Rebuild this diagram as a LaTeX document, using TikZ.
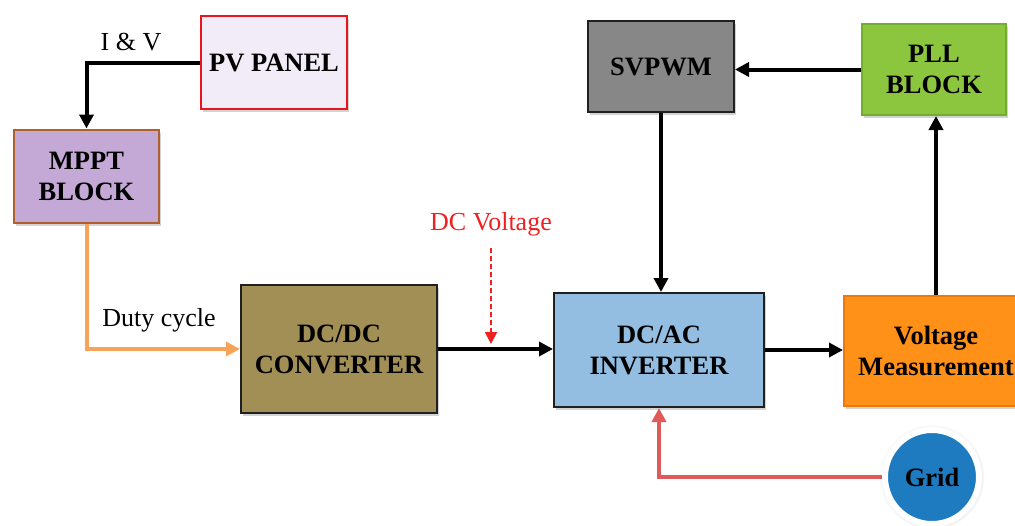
\documentclass[tikz,border=0pt]{standalone}
\usepackage{fontspec}
\setmainfont{Liberation Serif}
\usetikzlibrary{arrows.meta,shadows,calc}
\definecolor{pvfill}{HTML}{F1ECF7}
\definecolor{pvdraw}{HTML}{E8141E}
\definecolor{mpptfill}{HTML}{C4A8D6}
\definecolor{mpptdraw}{HTML}{B0602A}
\definecolor{dcdcfill}{HTML}{A18F56}
\definecolor{dcacfill}{HTML}{93BEE2}
\definecolor{svfill}{HTML}{878787}
\definecolor{pllfill}{HTML}{8CC63F}
\definecolor{plldraw}{HTML}{72AE2E}
\definecolor{vmfill}{HTML}{FF9018}
\definecolor{vmdraw}{HTML}{E87A10}
\definecolor{gridfill}{HTML}{1F7BC0}
\definecolor{darkline}{HTML}{202020}
\definecolor{orangeline}{HTML}{F7A35A}
\definecolor{redline}{HTML}{E05A5A}
\definecolor{dcvred}{HTML}{F02020}
\tikzset{
  blk/.style={draw=darkline, line width=2pt, align=center, inner sep=0pt,
    font=\bfseries\fontsize{26.5}{31}\selectfont,
    drop shadow={shadow xshift=2pt, shadow yshift=-3pt, opacity=0.35}},
  lbl/.style={font=\fontsize{26}{30}\selectfont, inner sep=0pt},
  arr/.style={line width=4pt, draw=black, -{Triangle[length=14pt,width=14pt]}},
  oarr/.style={line width=4pt, draw=orangeline, -{Triangle[length=14pt,width=14pt]}},
  rarr/.style={line width=4pt, draw=redline, -{Triangle[length=14pt,width=14pt]}},
  darr/.style={line width=1.8pt, draw=dcvred, dash pattern=on 5pt off 3pt, -{Triangle[length=12pt,width=12pt]}}
}
\begin{document}
\begin{tikzpicture}[x=1pt,y=-1pt]
\useasboundingbox (0,0) rectangle (1015,525);
\clip (0,0) rectangle (1015,525);

\node[blk, draw=pvdraw, fill=pvfill, minimum width=146pt, minimum height=93pt] (pv) at (274,62.5) {PV PANEL};
\node[blk, draw=mpptdraw, fill=mpptfill, minimum width=145pt, minimum height=93pt] (mppt) at (86.5,176) {MPPT\\BLOCK};
\node[blk, fill=dcdcfill, minimum width=196pt, minimum height=128pt] (dcdc) at (339,349) {DC/DC\\CONVERTER};
\node[blk, fill=dcacfill, minimum width=210pt, minimum height=114pt] (dcac) at (659,350) {DC/AC\\INVERTER};
\node[blk, fill=svfill, minimum width=146pt, minimum height=91pt] (sv) at (661,66.5) {SVPWM};
\node[blk, draw=plldraw, fill=pllfill, minimum width=144pt, minimum height=91pt] (pll) at (934,69.5) {PLL\\BLOCK};
\node[blk, draw=vmdraw, fill=vmfill, minimum width=184pt, minimum height=110pt] (vm) at (936,351) {Voltage\\Measurement};
\node[circle, draw=white, line width=6pt, fill=gridfill, minimum size=94pt, inner sep=0pt,
  font=\bfseries\fontsize{26.5}{31}\selectfont,
  circular drop shadow={shadow scale=1.12, opacity=0.3, shadow xshift=0pt, shadow yshift=0pt}] (grid) at (932,477) {Grid};

\node[lbl] (iv) at (131,42) {I \& V};
\node[lbl] (duty) at (159,320) {Duty cycle};
\node[lbl, text=dcvred] (dcv) at (491,224) {DC Voltage};
\coordinate (dcvtip) at (491,344);

\draw[arr] (pv.west) -| (mppt.north);
\draw[oarr] (mppt.south) |- (dcdc.west);
\draw[arr] (dcdc.east) -- (dcdc.east -| dcac.west);
\draw[darr, shorten <=12pt] (dcv.south) -- (dcvtip);
\draw[arr] (dcac.east) -- (dcac.east -| vm.west);
\draw[arr] (vm.north) -- (vm.north |- pll.south);
\draw[arr] (pll.west) -- (pll.west -| sv.east);
\draw[arr] (sv.south) -- (sv.south |- dcac.north);
\draw[rarr] (grid.west) -| (dcac.south);
\end{tikzpicture}
\end{document}
